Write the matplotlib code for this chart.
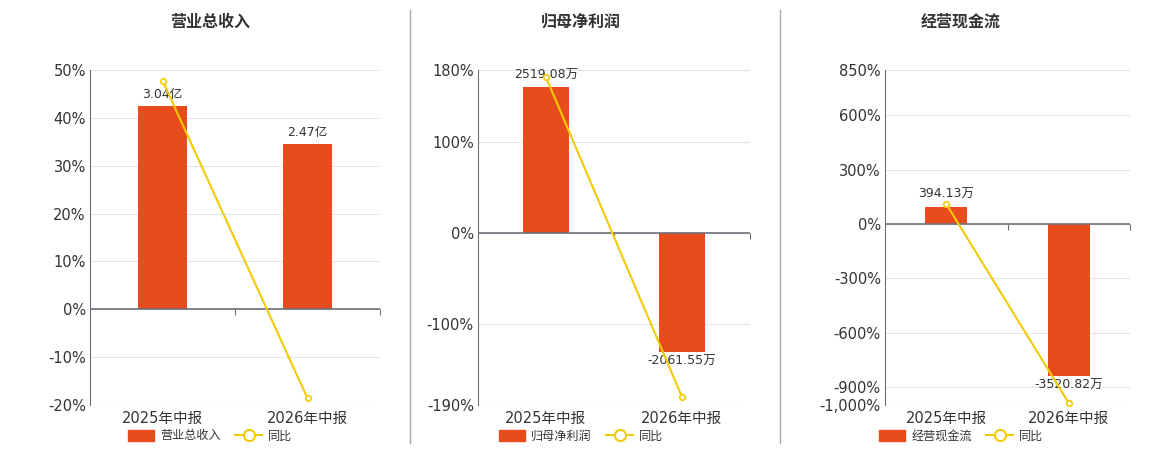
import matplotlib
matplotlib.use("Agg")
import matplotlib.pyplot as plt
from matplotlib.lines import Line2D
from matplotlib.patches import Patch

plt.rcParams['font.family'] = ['DejaVu Sans', 'Noto Sans CJK SC']

# data
periods = ["2025年中报", "2026年中报"]
titles = ["营业总收入", "归母净利润", "经营现金流"]

revenue = [3.04, 2.47]              # 亿
revenue_labels = ["3.04亿", "2.47亿"]
revenue_yoy = [47.8, -18.6]

profit = [2519.08, -2061.55]        # 万
profit_labels = ["2519.08万", "-2061.55万"]
profit_yoy = [172, -181]

cash = [394.13, -3520.82]           # 万
cash_labels = ["394.13万", "-3520.82万"]
cash_yoy = [110, -989]

ticks1 = [-20, -10, 0, 10, 20, 30, 40, 50]
ticks2 = [-190, -100, 0, 100, 180]
ticks3 = [-1000, -900, -600, -300, 0, 300, 600, 850]

BAR = "#E84C1C"
LINE = "#F2CB05"
TXT = "#333333"
AXC = "#6E7079"
GRID = "#E0E6F1"

W, H = 1160, 450
fig = plt.figure(figsize=(W / 100, H / 100), dpi=100)

# pixel box left/right, bar scale factor onto the % axis, title centre
panels = [
    (90, 380, revenue, revenue_labels, revenue_yoy, ticks1, 13.95, 210),
    (478, 750, profit, profit_labels, profit_yoy, ticks2, 0.064, 581),
    (885, 1130, cash, cash_labels, cash_yoy, ticks3, 0.2385, 961),
]
top, bottom = 70, 405

for i, (l, r, bars, labels, yoy, ticks, k, tx) in enumerate(panels):
    ax = fig.add_axes([l / W, (H - bottom) / H, (r - l) / W, (bottom - top) / H])
    ymin, ymax = ticks[0], ticks[-1]
    ax.set_ylim(ymin, ymax)
    ax.set_xlim(-0.5, 1.5)
    ax.set_yticks(ticks)
    ax.set_yticklabels([f"{t:,}%" for t in ticks])
    ax.set_xticks([0, 1])
    ax.set_xticklabels(periods)
    ax.tick_params(axis="y", length=0, labelsize=10.5, colors=TXT, pad=3)
    ax.tick_params(axis="x", length=0, labelsize=10.5, colors=TXT, pad=4)
    ax.grid(axis="y", color=GRID, lw=0.8)
    for s in ["top", "right", "bottom"]:
        ax.spines[s].set_visible(False)
    ax.spines["left"].set_color(AXC)

    # bars on a twin axis with zero aligned
    bx = ax.twinx()
    bx.set_ylim(ymin / k, ymax / k)
    bx.bar([0, 1], bars, width=0.34, color=BAR)
    bx.set_yticks([])
    for s in bx.spines.values():
        s.set_visible(False)
    for xi, v, lab in zip([0, 1], bars, labels):
        if v >= 0:
            bx.annotate(lab, (xi, v), xytext=(0, 4), textcoords="offset points",
                        ha="center", va="bottom", fontsize=9, color=TXT)
        else:
            bx.annotate(lab, (xi, v), xytext=(0, -2), textcoords="offset points",
                        ha="center", va="top", fontsize=9, color=TXT)

    # line on a third axis with the same % scale, on top
    cx = ax.twinx()
    cx.set_ylim(ymin, ymax)
    cx.set_yticks([])
    for s in cx.spines.values():
        s.set_visible(False)
    cx.axhline(0, color=AXC, lw=1.2, zorder=1)
    cx.plot([0, 1], yoy, color=LINE, lw=1.5, marker="o", ms=4,
            mfc="white", mec=LINE, mew=1.2, zorder=5, clip_on=False)
    zf = (0 - ymin) / (ymax - ymin)
    sec = cx.secondary_xaxis(zf)
    sec.set_xticks([0.5, 1.5])
    sec.set_xticklabels([])
    sec.tick_params(direction="out", length=4, color=AXC, top=False, bottom=True)
    sec.spines["bottom"].set_visible(False)
    sec.spines["top"].set_visible(False)
    sec.xaxis.set_ticks_position("bottom")

    fig.text(tx / W, (H - 22) / H, titles[i], ha="center", va="center",
             fontsize=11.5, fontweight="bold", color=TXT)

    handles = [Patch(facecolor=BAR, edgecolor=BAR),
               Line2D([], [], color=LINE, lw=1.5, marker="o", ms=8,
                      mfc="white", mec=LINE, mew=1.5)]
    fig.legend(handles, [titles[i], "同比"], loc="center",
               bbox_to_anchor=(tx / W, (H - 436) / H), ncol=2, frameon=False,
               fontsize=8.7, labelcolor=TXT, handlelength=2.2, handleheight=1.1,
               columnspacing=1.2, handletextpad=0.5)

for x in [410, 780]:
    fig.add_artist(Line2D([x / W, x / W], [(H - 443) / H, (H - 10) / H],
                          color="#AAAAAA", lw=1))

fig.savefig("out.png", dpi=100)
